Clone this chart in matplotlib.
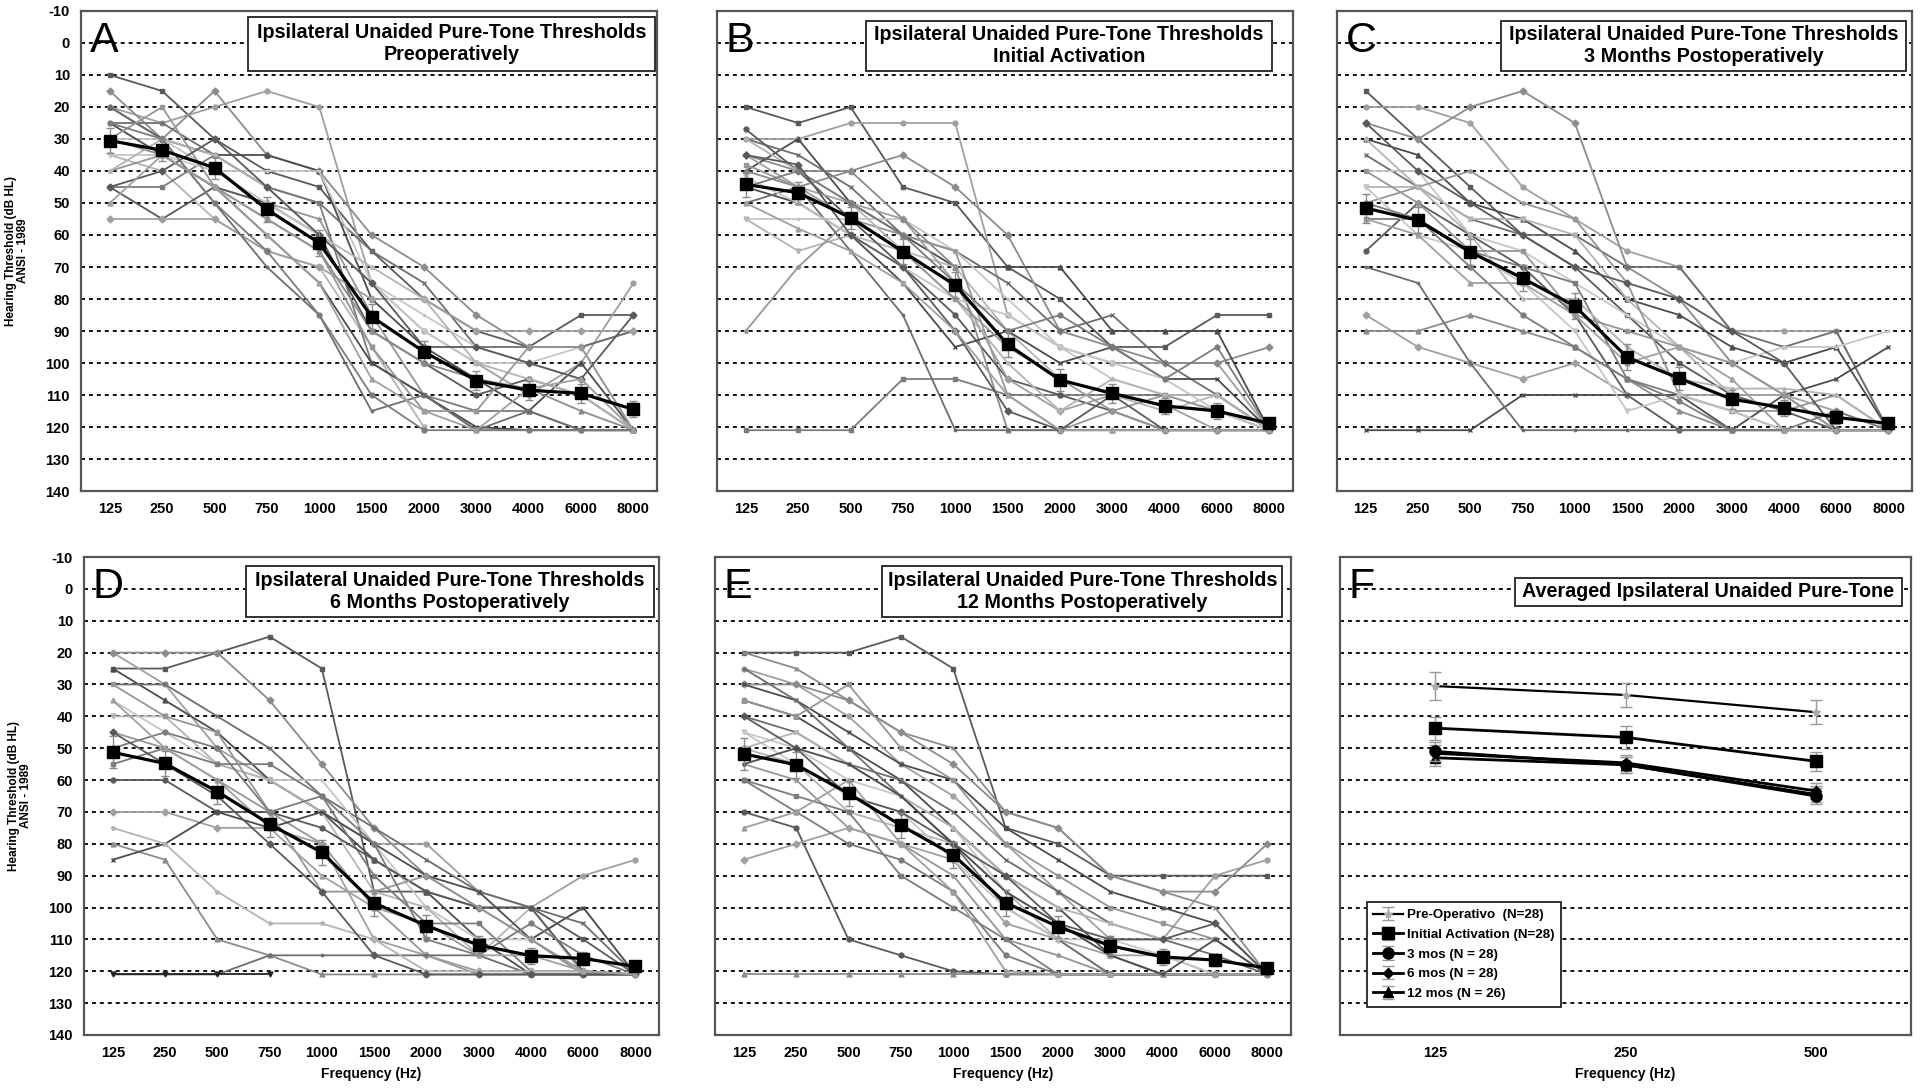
import numpy as np
import matplotlib.pyplot as plt
from matplotlib.patches import Rectangle
from matplotlib.transforms import blended_transform_factory

plt.rcParams['font.family'] = ['Liberation Sans', 'DejaVu Sans']
plt.rcParams['axes.unicode_minus'] = False

freqs = ['125', '250', '500', '750', '1000', '1500', '2000', '3000', '4000', '6000', '8000']
N = np.nan

# individual ears, dB HL (121 = no response)
pre_op = [
    [10, 15, 30, 40, 45, 65, 80, 90, 95, 85, 85],
    [20, 25, 20, 15, 20, 75, 90, 100, 110, 100, 75],
    [15, 30, 15, 35, 40, 60, 70, 85, 95, 95, 90],
    [20, 30, 35, 35, 40, 80, 95, 105, 115, 100, 121],
    [25, 25, 35, 45, 50, 65, 75, 95, 95, 95, 90],
    [30, 30, 40, 40, 40, 75, 85, 95, 100, 105, 121],
    [35, 40, 55, 65, 70, 95, 120, N, N, N, N],
    [40, 35, 45, 50, 55, 85, 110, 121, 121, 121, 121],
    [45, 45, 35, 45, 50, 100, 110, 115, 115, 121, 121],
    [45, 55, 45, 50, 60, 90, 100, 110, 105, 110, 121],
    [55, 55, 55, 65, 70, 80, 80, 90, 90, 90, 90],
    [30, 35, 45, 55, 65, 90, 100, 105, 108, 115, 121],
    [25, 35, 45, 60, 75, 100, 110, 120, 121, 121, 121],
    [20, 30, 50, 70, 85, 115, 110, 121, 115, 121, 121],
    [35, 35, 40, 50, 60, 75, 90, 100, 100, 95, 121],
    [40, 30, 35, 45, 60, 70, 80, 100, 105, 110, 121],
    [30, 20, 45, 55, 65, 95, 115, 115, 95, 95, 121],
    [25, 30, 50, 65, 85, 110, 121, 121, 121, 121, 121],
    [45, 40, 30, 45, 60, 75, 95, 95, 100, 105, 85],
    [50, 35, 45, 60, 75, 105, 115, 121, 108, 105, 121],
]
initial = [
    [20, 25, 20, 45, 50, 70, 80, 95, 95, 85, 85],
    [30, 30, 25, 25, 25, 85, 95, 100, 100, 100, 121],
    [35, 40, 40, 35, 45, 60, 90, 95, 100, 100, 95],
    [40, 30, 50, 60, 70, 70, 70, 90, 90, 90, 121],
    [30, 35, 45, 60, 65, 75, 90, 85, 100, 110, 121],
    [55, 55, 55, 55, 65, 80, 95, 105, 110, 115, 121],
    [55, 65, 60, 65, 70, 90, 105, 110, 115, 110, 121],
    [90, 70, 55, 60, 65, 110, 121, 115, 110, 115, 121],
    [121, 121, 121, 105, 105, 110, 110, 110, 110, 110, 121],
    [27, 40, 55, 70, 85, 105, 110, 115, 121, 121, 121],
    [35, 45, 50, 55, 75, 105, 115, 110, 113, 121, 121],
    [40, 45, 40, 55, 70, 121, 121, 121, 121, 121, 121],
    [45, 50, 60, 75, 95, 90, 100, 95, 105, 105, 121],
    [50, 45, 65, 85, 121, 121, 121, 121, 121, 121, 121],
    [42, 50, 60, 70, 80, 85, 95, 100, 105, 115, 121],
    [30, 40, 50, 65, 80, 100, 115, 105, 110, 110, 121],
    [38, 45, 55, 65, 80, 95, 105, 115, 121, 121, 121],
    [45, 40, 50, 60, 75, 90, 85, 95, 105, 95, 121],
    [35, 38, 60, 70, 90, 115, 121, 110, 121, 121, 121],
    [50, 58, 65, 75, 90, 110, 121, 121, 121, 121, 121],
]
three_mo = [
    [15, 30, 45, 60, 70, 85, 100, 110, 115, 121, 121],
    [20, 20, 25, 45, 55, 65, 70, 90, 90, 90, 121],
    [25, 30, 20, 15, 25, 70, 80, 100, 110, 121, 121],
    [30, 35, 50, 55, 65, 80, 85, 95, 100, 95, 121],
    [35, 45, 55, 60, 60, 70, 70, 90, 95, 90, 121],
    [40, 40, 60, 65, 75, 85, 95, 100, 95, 95, 90],
    [45, 45, 55, 55, 60, 80, 95, 110, 110, 121, 121],
    [50, 45, 40, 50, 55, 75, 110, 115, 115, 110, 121],
    [55, 55, 65, 70, 75, 105, 110, 115, 121, 121, 121],
    [65, 50, 60, 70, 85, 110, 121, 121, 121, 121, 121],
    [85, 95, 100, 105, 100, 110, 110, 110, 110, 115, 121],
    [90, 90, 85, 90, 95, 105, 115, 121, 121, 121, 121],
    [121, 121, 121, 110, 110, 110, 110, 121, 110, 105, 95],
    [70, 75, 100, 121, 121, 121, 121, 121, 121, 121, 121],
    [45, 60, 65, 75, 90, 115, 110, 115, 121, 121, 121],
    [30, 45, 60, 80, 80, 95, 105, 108, 108, 110, 121],
    [40, 50, 65, 65, 85, 90, 95, 100, 110, 121, 121],
    [50, 55, 70, 85, 95, 105, 112, 121, 121, 115, 121],
    [25, 40, 50, 60, 70, 75, 80, 90, 100, 121, 121],
    [55, 60, 75, 75, 85, 100, 95, 105, 121, 121, 121],
]
six_mo = [
    [25, 25, 20, 15, 25, 95, 95, 100, 100, 110, 121],
    [20, 30, 50, 60, 70, 80, 80, 95, 100, 90, 85],
    [20, 20, 20, 35, 55, 75, 90, 100, 110, 121, 121],
    [25, 35, 45, 60, 70, 85, 95, 110, 121, 121, 121],
    [30, 30, 40, 50, 65, 75, 85, 95, 100, 105, 121],
    [35, 45, 55, 60, 60, 80, 100, 110, 110, 100, 121],
    [40, 40, 55, 60, 70, 95, 100, 115, 100, 121, 121],
    [45, 50, 60, 70, 80, 100, 115, 121, 121, 121, 121],
    [55, 50, 55, 55, 65, 90, 105, 105, 120, 120, 121],
    [60, 60, 70, 70, 75, 85, 95, 100, 100, 120, 121],
    [70, 70, 75, 75, 80, 110, 115, 120, 120, 120, 121],
    [80, 85, 110, 115, 121, 121, 121, 121, 121, 121, 121],
    [85, 80, 70, 75, 70, 80, 90, 95, 110, 100, 121],
    [121, 121, 121, 115, 115, 115, 115, 115, 121, 121, 121],
    [121, 121, 121, 121, N, N, N, N, N, N, N],
    [75, 80, 95, 105, 105, 110, 120, 120, 120, 120, 121],
    [30, 40, 45, 70, 95, 95, 90, 100, 110, 120, 121],
    [50, 45, 50, 70, 65, 80, 110, 115, 105, 115, 121],
    [45, 55, 65, 80, 95, 115, 121, 121, 121, 121, 121],
    [35, 50, 60, 75, 90, 100, 105, 115, 115, 120, 121],
]
twelve_mo = [
    [20, 20, 20, 15, 25, 75, 80, 90, 90, 90, 90],
    [25, 30, 40, 55, 65, 80, 95, 110, 110, 90, 85],
    [30, 30, 35, 45, 55, 70, 75, 90, 95, 95, 80],
    [35, 40, 50, 60, 75, 90, 100, 115, 121, 121, 121],
    [40, 45, 55, 60, 70, 85, 95, 105, 110, 115, 121],
    [45, 50, 60, 65, 75, 95, 105, 115, 121, 121, 121],
    [50, 55, 70, 75, 80, 95, 110, 121, 121, 121, 121],
    [55, 60, 75, 80, 90, 110, 115, 121, 121, 121, 121],
    [60, 65, 70, 90, 100, 110, 121, 121, 121, 121, 121],
    [70, 75, 110, 115, 120, 121, 121, 121, 121, 121, 121],
    [85, 80, 75, 80, 85, 105, 110, 115, 115, 121, 121],
    [121, 121, 121, 121, 121, 121, 121, 121, 121, 121, 121],
    [30, 35, 45, 55, 60, 75, 85, 95, 100, 105, 121],
    [25, 35, 50, 65, 80, 100, 110, 121, 121, 121, 121],
    [45, 55, 65, 70, 85, 100, 110, 110, 115, 121, 121],
    [50, 45, 55, 65, 75, 90, 100, 105, 110, 110, 121],
    [35, 40, 30, 50, 60, 80, 90, 100, 105, 110, 121],
    [60, 70, 80, 85, 95, 115, 121, 121, 121, 121, 121],
    [40, 50, 65, 70, 80, 90, 105, 110, 110, 105, 121],
    [75, 70, 60, 80, 95, 120, 121, 121, 121, 121, 121],
    [20, 25, 35, 45, 50, 70, 75, 90, 95, 100, 121],
    [55, 50, 55, 65, 80, 95, 105, 115, 121, 110, 121],
]

# group means and their error bars
mean_pre = [30.5, 33.5, 39, 52, 62.5, 85.5, 96.5, 105.5, 108.5, 109.5, 114.5]
mean_init = [44.2, 46.8, 54.6, 65.2, 75.7, 94.2, 105.3, 109.5, 113.4, 115, 118.9]
mean_3mo = [51.6, 55.4, 65.3, 73.5, 82.2, 98.2, 104.8, 111.3, 114, 117, 118.9]
mean_6mo = [51.3, 54.8, 63.6, 73.8, 82.7, 98.6, 105.7, 111.8, 115.1, 116, 118.5]
mean_12mo = [51.8, 55.2, 64.2, 74.2, 83.5, 98.5, 106, 112, 115.5, 116.5, 119]
err_pre = [4, 3.5, 3.5, 4, 4, 4, 3.5, 3, 3, 3, 2.5]
err_init = [4, 3.5, 3.5, 4, 4, 4, 3.5, 3, 2.5, 2.5, 1.5]
err_3mo = [4.5, 4, 4, 4, 4, 4, 3.5, 3, 2.5, 2, 1.5]
err_6mo = [5, 4, 4, 4, 4, 4, 3.5, 3, 2.5, 2, 1.5]
err_12mo = [5, 4, 4, 4, 4, 4, 3.5, 3, 2.5, 2, 1.5]

# panel F: low frequencies only
f_freqs = ['125', '250', '500']
f_labels = ['Pre-Operativo  (N=28)', 'Initial Activation (N=28)', '3 mos (N = 28)',
            '6 mos (N = 28)', '12 mos (N = 26)']
f_means = [[30.5, 33.3, 38.7], [43.7, 46.6, 54.1], [51.0, 55.2, 65.0],
           [51.6, 54.6, 63.4], [53.0, 55.2, 64.5]]
f_err = [[4.3, 3.7, 3.8], [3.6, 3.5, 3.0], [3.0, 2.5, 2.5],
         [2.5, 2.5, 2.5], [2.5, 2.5, 2.5]]

panels = [
    ('A', 'Ipsilateral Unaided Pure-Tone Thresholds\nPreoperatively', pre_op, mean_pre, err_pre),
    ('B', 'Ipsilateral Unaided Pure-Tone Thresholds\nInitial Activation', initial, mean_init, err_init),
    ('C', 'Ipsilateral Unaided Pure-Tone Thresholds\n3 Months Postoperatively', three_mo, mean_3mo, err_3mo),
    ('D', 'Ipsilateral Unaided Pure-Tone Thresholds\n6 Months Postoperatively', six_mo, mean_6mo, err_6mo),
    ('E', 'Ipsilateral Unaided Pure-Tone Thresholds\n12 Months Postoperatively', twelve_mo, mean_12mo, err_12mo),
]

W, H = 1920, 1089
fig = plt.figure(figsize=(W / 100, H / 100), dpi=100)

# axes boxes in pixels: left, top, right, bottom
boxes = [(81, 11, 657, 491), (717, 11, 1293, 491), (1337, 11, 1912, 491),
         (84, 557, 659, 1035), (715, 557, 1291, 1035), (1340, 557, 1911, 1035)]
axes = [fig.add_axes([l / W, 1 - b / H, (r - l) / W, (b - t) / H]) for l, t, r, b in boxes]

greys = ['#5a5a5a', '#8c8c8c', '#6e6e6e', '#b4b4b4', '#7c7c7c', '#a0a0a0', '#4c4c4c', '#c6c6c6', '#969696']
marks = ['s', 'o', 'D', '^', 'x', '.', 'v', '*']


def setup(ax, letter, show_y, xlabel):
    ax.set_ylim(140, -10)
    ax.set_yticks(range(-10, 141, 10))
    for y in range(0, 131, 10):
        ax.axhline(y, color='black', lw=1.3, ls=(0, (2.2, 2.2)), zorder=0.5)
    for s in ax.spines.values():
        s.set_color('#555555')
        s.set_linewidth(1.6)
    ax.tick_params(length=0, labelsize=10.5, pad=8)
    for t in ax.get_xticklabels() + ax.get_yticklabels():
        t.set_fontweight('bold')
    if not show_y:
        ax.set_yticklabels([])
    else:
        ax.set_ylabel('Hearing Threshold (dB HL)\nANSI - 1989', fontsize=8.5,
                      fontweight='bold', labelpad=12, linespacing=0.95)
    if xlabel:
        ax.set_xlabel('Frequency (Hz)', fontsize=10, fontweight='bold', labelpad=5)
    tr = blended_transform_factory(ax.transAxes, ax.transData)
    ax.text(0.015, 2.8, letter, transform=tr, fontsize=31, ha='left', va='baseline',
            color='black', zorder=6)


def title_box(ax, text, x0, x1, y0, y1):
    tr = blended_transform_factory(ax.transAxes, ax.transData)
    ax.add_patch(Rectangle((x0, y0), x1 - x0, y1 - y0, transform=tr, facecolor='white',
                           edgecolor='#222222', lw=1.3, zorder=5, clip_on=False))
    ax.text((x0 + x1) / 2, (y0 + y1) / 2, text, transform=tr, ha='center', va='center',
            fontsize=14.2, fontweight='bold', linespacing=1.2, zorder=6)


title_pos = [(0.29, 0.997, -8.2, 8.8), (0.259, 0.963, -7.0, 8.8), (0.285, 0.99, -7.0, 8.8),
             (0.282, 0.991, -7.3, 8.7), (0.29, 0.985, -7.3, 8.7)]

x = np.arange(len(freqs))
for i, (letter, title, series, mean, err) in enumerate(panels):
    ax = axes[i]
    for j, s in enumerate(series):
        c = greys[(j * 5) % len(greys)]
        if letter == 'D' and j == 14:
            c = '#222222'
        ax.plot(x, s, color=c, lw=1.3, marker=marks[j % len(marks)], ms=3.5,
                mfc=c, mec=c, zorder=2)
    ax.errorbar(x, mean, yerr=err, fmt='none', ecolor='#8a8a8a', elinewidth=1.0,
                capsize=3, capthick=1.0, zorder=3)
    ax.plot(x, mean, color='black', lw=2.3, marker='s', ms=8, zorder=4)
    ax.set_xlim(-0.55, 10.45)
    ax.set_xticks(x)
    ax.set_xticklabels(freqs)
    setup(ax, letter, show_y=(letter in 'AD'), xlabel=(letter in 'DE'))
    title_box(ax, title, *title_pos[i])

# panel F
ax = axes[5]
xf = np.arange(len(f_freqs))
styles = [dict(marker='*', ms=6, mfc='#aaaaaa', mec='#aaaaaa', lw=1.6),
          dict(marker='s', ms=8, lw=2.0),
          dict(marker='o', ms=8, lw=2.0),
          dict(marker='D', ms=5, lw=2.0),
          dict(marker='^', ms=7, lw=2.0)]
for k in range(5):
    ax.errorbar(xf, f_means[k], yerr=f_err[k], color='black', ecolor='#999999',
                elinewidth=1.0, capsize=4, capthick=1.0, label=f_labels[k],
                zorder=4 - k * 0.1, **styles[k])
ax.set_xlim(-0.5, 2.5)
ax.set_xticks(xf)
ax.set_xticklabels(f_freqs)
setup(ax, 'F', show_y=False, xlabel=True)
title_box(ax, 'Averaged Ipsilateral Unaided Pure-Tone', 0.306, 0.984, -3.4, 5.3)
leg = ax.legend(loc='lower left', bbox_to_anchor=(0.035, 0.045), fancybox=False,
                edgecolor='#222222', framealpha=1, handlelength=2.2, handletextpad=0.3,
                labelspacing=0.55, borderpad=0.5,
                prop={'weight': 'bold', 'size': 9.6})
leg.get_frame().set_linewidth(1.3)
leg.set_zorder(7)

fig.savefig('out.png', dpi=100)
